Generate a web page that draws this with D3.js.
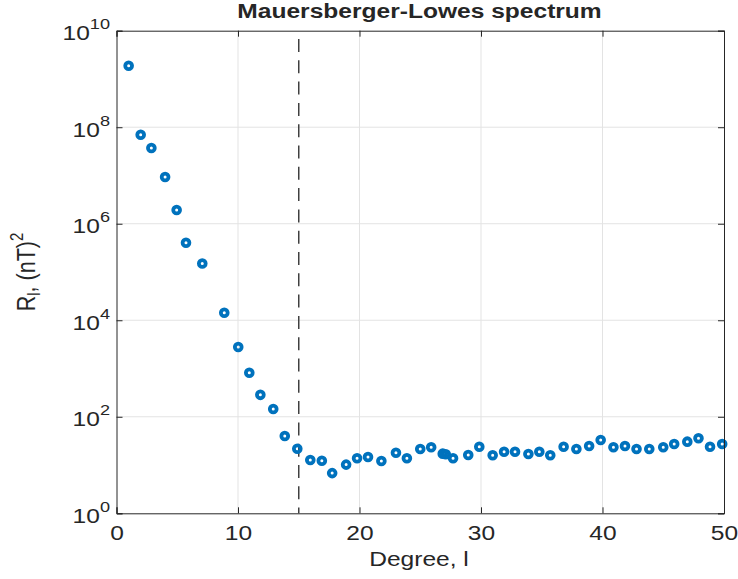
<!DOCTYPE html>
<html>
<head>
<meta charset="utf-8">
<script src="https://cdn.jsdelivr.net/npm/d3@7"></script>
<style>
  html, body { margin: 0; padding: 0; background: #fff; }
  svg { display: block; }
  text { font-family: "Liberation Sans", Arial, Helvetica, sans-serif; fill: #262626; }
</style>
</head>
<body>
<svg id="chart" width="738" height="579"></svg>
<script>
// ---- data ----
const degree = [1.0, 1.99, 2.87, 4.0, 4.95, 5.72, 7.06, 8.87, 10.02, 10.93,
  11.84, 12.9, 13.85, 14.88, 15.95, 16.9, 17.75, 18.9, 19.8, 20.7,
  21.8, 23.0, 23.9, 25.0, 25.9, 26.85, 27.1, 27.7, 28.95, 29.86,
  30.96, 31.9, 32.8, 33.9, 34.8, 35.7, 36.8, 37.85, 38.9, 39.85,
  40.9, 41.85, 42.8, 43.85, 45.0, 45.9, 46.98, 47.9, 48.85, 49.85];
const spectrum = [1.88e9, 7.0e7, 3.7e7, 9.3e6, 1.93e6, 4.05e5, 1.5e5, 1.43e4, 2.8e3, 820,
  285, 145, 40, 21.8, 12.7, 12.3, 6.8, 10.2, 13.8, 14.7,
  12.1, 18, 13.8, 21.5, 23.3, 17.2, 16.7, 13.8, 16.2, 24,
  15.9, 18.9, 18.9, 16.9, 18.9, 15.9, 24, 21.5, 24.8, 33,
  23.3, 24.8, 21.5, 21.5, 23.3, 27.3, 30.5, 35.8, 24, 27.3];
const xTicks = [0, 10, 20, 30, 40, 50];
const yExponents = [0, 2, 4, 6, 8, 10];
const cutoffDegree = 15;
const titleText = "Mauersberger-Lowes spectrum";
const xLabelText = "Degree, l";

// ---- layout ----
const svg = d3.select("#chart");
const L = 116.5, R = 724, T = 30.7, B = 513.3;
const x = d3.scaleLinear().domain([0, 50]).range([L, R]);
const y = d3.scaleLog().domain([1, 1e10]).range([B, T]);
const yTicks = yExponents.map(e => Math.pow(10, e));
const axisColor = "#262626";
const SX = 1.17;      // horizontal glyph stretch seen in the reference
const FS = 21;        // base font size

// grid
const grid = svg.append("g");
grid.selectAll("line.gx").data(xTicks.slice(1, -1)).enter().append("line")
  .attr("x1", d => x(d)).attr("x2", d => x(d)).attr("y1", T).attr("y2", B)
  .attr("stroke", "#e3e3e3").attr("stroke-width", 1);
grid.selectAll("line.gy").data(yTicks.slice(1, -1)).enter().append("line")
  .attr("x1", L).attr("x2", R).attr("y1", d => y(d)).attr("y2", d => y(d))
  .attr("stroke", "#e3e3e3").attr("stroke-width", 1);

// cutoff dashed line
svg.append("line")
  .attr("x1", x(cutoffDegree)).attr("x2", x(cutoffDegree))
  .attr("y1", T).attr("y2", B)
  .attr("stroke", "#404040").attr("stroke-width", 1.5)
  .attr("stroke-dasharray", "13,8.3").attr("stroke-dashoffset", 13);

// points
svg.append("g").selectAll("circle").data(degree).enter().append("circle")
  .attr("cx", (d, i) => x(d)).attr("cy", (d, i) => y(spectrum[i]))
  .attr("r", 3.4).attr("fill", "none")
  .attr("stroke", "#0072BD").attr("stroke-width", 3.8);

// axes
const tickLen = 6;
const gx = svg.append("g").attr("transform", `translate(0,${B})`)
  .call(d3.axisBottom(x).tickValues(xTicks).tickSize(-tickLen).tickPadding(6).tickFormat(d3.format("d")));
const gxTop = svg.append("g").attr("transform", `translate(0,${T})`)
  .call(d3.axisTop(x).tickValues(xTicks).tickSize(-tickLen).tickFormat(""));
const gy = svg.append("g").attr("transform", `translate(${L},0)`)
  .call(d3.axisLeft(y).tickValues(yTicks).tickSize(-tickLen).tickPadding(6).tickFormat(""));
const gyR = svg.append("g").attr("transform", `translate(${R},0)`)
  .call(d3.axisRight(y).tickValues(yTicks).tickSize(-tickLen).tickFormat(""));

[gx, gxTop, gy, gyR].forEach(g => {
  g.select(".domain").attr("stroke", axisColor).attr("stroke-width", 1);
  g.selectAll(".tick line").attr("stroke", axisColor).attr("stroke-width", 1);
});
gx.selectAll(".tick text").attr("font-size", FS).attr("fill", axisColor)
  .attr("dy", null).attr("y", 27).attr("transform", `scale(${SX},1)`);

// y tick labels with superscripts
gy.selectAll(".tick").each(function(d) {
  const t = d3.select(this).select("text");
  t.text(null).attr("x", -6.5 / SX).attr("dy", null).attr("y", 9)
    .attr("text-anchor", "end").attr("fill", axisColor)
    .attr("transform", `scale(${SX},1)`);
  t.append("tspan").attr("font-size", FS).text("10");
  t.append("tspan").attr("font-size", 15.5).attr("dy", -11)
    .text(String(Math.round(Math.log10(d))));
});

// title
svg.append("text")
  .attr("transform", `translate(419.5,18.3) scale(${SX},1)`)
  .attr("text-anchor", "middle").attr("font-weight", "bold")
  .attr("font-size", FS).attr("fill", "#000").text(titleText);

// x label
svg.append("text")
  .attr("transform", `translate(419,566) scale(${SX},1)`)
  .attr("text-anchor", "middle").attr("font-size", FS).attr("fill", axisColor)
  .text(xLabelText);

// y label: R_l, (nT)^2
const yl = svg.append("text")
  .attr("transform", `translate(34.5,${(T + B) / 2}) scale(${SX},1) rotate(-90)`)
  .attr("text-anchor", "middle").attr("font-size", FS + 0.5).attr("fill", axisColor);
yl.append("tspan").text("R");
yl.append("tspan").attr("font-size", 15).attr("dy", 5).text("l");
yl.append("tspan").attr("dy", -5).text(", (nT)");
yl.append("tspan").attr("font-size", 15).attr("dy", -10).text("2");
</script>
</body>
</html>
